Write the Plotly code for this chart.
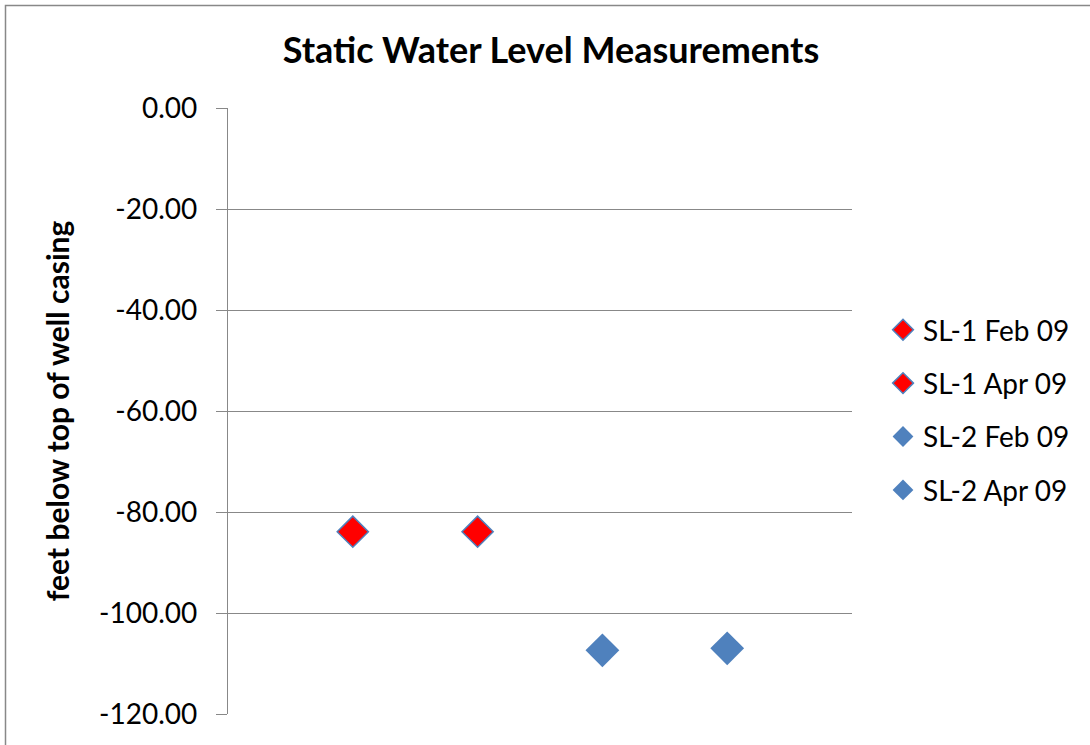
import plotly.graph_objects as go

series_names = ["SL-1 Feb 09", "SL-1 Apr 09", "SL-2 Feb 09", "SL-2 Apr 09"]
x_values = [1, 2, 3, 4]
y_values = [-83.9, -83.9, -107.4, -107.0]
fill_colors = ["#FF0000", "#FF0000", "#4F81BD", "#4F81BD"]
marker_sizes = [24, 24, 26, 26]
line_widths = [1.5, 1.5, 0, 0]

title_text = "Static Water Level Measurements"
y_title = "feet below top of well casing"
y_ticks = [0, -20, -40, -60, -80, -100, -120]

W, H = 1090, 745
ML, MR, MT, MB = 228, 238, 108, 31
pw = W - ML - MR
ph = H - MT - MB

fig = go.Figure()
for i, name in enumerate(series_names):
    fig.add_trace(go.Scatter(
        x=[x_values[i]], y=[y_values[i]], mode="markers", name=name,
        legendgroup=f"g{i}",
        marker=dict(symbol="diamond", size=marker_sizes[i], color=fill_colors[i],
                    line=dict(color="#4F81BD", width=line_widths[i])),
    ))

font_family = "Lato, 'Open Sans', sans-serif"

fig.update_layout(
    width=W, height=H,
    margin=dict(l=ML, r=MR, t=MT, b=MB),
    paper_bgcolor="white", plot_bgcolor="white",
    font=dict(family=font_family, color="black"),
    title=dict(text="<b>" + title_text + "</b>", x=551 / W, xanchor="center",
               y=1 - 50 / H, yanchor="middle", font=dict(size=36, family=font_family)),
    xaxis=dict(range=[0, 5], showgrid=False, zeroline=False, showticklabels=False,
               showline=False, ticks=""),
    yaxis=dict(range=[-120, 0], tickvals=y_ticks, ticktext=[f"{v:.2f}" for v in y_ticks],
               showgrid=True, gridcolor="#888888", gridwidth=1.3,
               zeroline=False, showline=True, linecolor="#888888", linewidth=1.3,
               ticks="outside", ticklen=11, tickcolor="#888888", tickwidth=1.3,
               tickfont=dict(size=28), ticklabelstandoff=13,
               title=dict(text="<b>" + y_title + "</b>", font=dict(size=30), standoff=20)),
    legend=dict(x=(883 - ML) / pw, xanchor="left", y=(714 - 305) / ph, yanchor="top",
                font=dict(size=28), tracegroupgap=14, bgcolor="rgba(0,0,0,0)"),
    showlegend=True,
)

# chart border (cropped at right and bottom in the reference)
fig.add_shape(type="rect", xref="paper", yref="paper",
              x0=(5.5 - ML) / pw, x1=(1200 - ML) / pw,
              y0=(714 - 800) / ph, y1=(714 - 5.5) / ph,
              line=dict(color="#888888", width=1.5), fillcolor="rgba(0,0,0,0)", layer="below")

fig.write_html("out.html")
